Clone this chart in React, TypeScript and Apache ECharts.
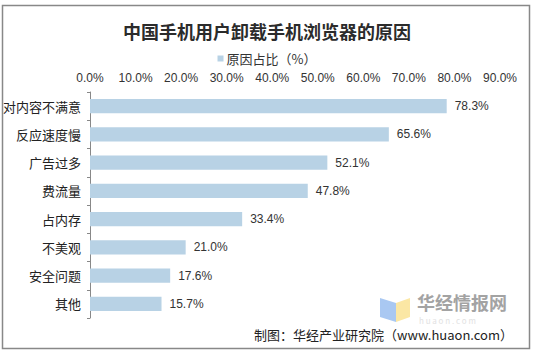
import React, { useEffect, useRef } from "react";
import * as echarts from "echarts";

const titleText = "中国手机用户卸载手机浏览器的原因";
const seriesName = "原因占比（%）";
const categories = ["对内容不满意", "反应速度慢", "广告过多", "费流量", "占内存", "不美观", "安全问题", "其他"];
const values = [78.3, 65.6, 52.1, 47.8, 33.4, 21.0, 17.6, 15.7];
const axisMin = 0;
const axisMax = 90;
const axisInterval = 10;
const sourceText = "制图：华经产业研究院（www.huaon.com）";
const watermarkText = "华经情报网";
const watermarkSub = "huaon.com";

export default function App() {
  const ref = useRef<HTMLDivElement>(null);
  useEffect(() => {
    document.body.style.margin = "0";
    const chart = echarts.init(ref.current!, null, { renderer: "svg" });
    const font = "'Noto Sans CJK SC', 'Noto Sans', sans-serif";
    chart.setOption({
      animation: false,
      backgroundColor: "#ffffff",
      textStyle: { fontFamily: font },
      title: {
        text: titleText,
        left: "center",
        top: 17,
        textStyle: { fontSize: 18, fontWeight: "bold", color: "#2b2b2b", fontFamily: font },
      },
      legend: {
        top: 47,
        left: "center",
        icon: "rect",
        itemWidth: 6,
        itemHeight: 6,
        itemGap: 4,
        textStyle: { fontSize: 13, color: "#333", fontFamily: font, padding: [0, 0, 0, -2] },
        data: [seriesName],
      },
      grid: { left: 89, right: 34, top: 92, bottom: 37, containLabel: false },
      xAxis: {
        type: "value",
        position: "top",
        min: axisMin,
        max: axisMax,
        interval: axisInterval,
        axisLine: { show: false },
        axisTick: { show: false },
        splitLine: { show: false },
        axisLabel: {
          margin: 8,
          fontSize: 12,
          color: "#333",
          fontFamily: "'Liberation Sans', Arial, sans-serif",
          formatter: (v: number) => v.toFixed(1) + "%",
        },
      },
      yAxis: {
        type: "category",
        inverse: true,
        data: categories,
        axisLine: { show: true, lineStyle: { color: "#888", width: 1 } },
        axisTick: { show: true, length: 3, lineStyle: { color: "#888" } },
        axisLabel: { margin: 9, fontSize: 13, color: "#222", fontFamily: font },
      },
      series: [
        {
          name: seriesName,
          type: "bar",
          data: values,
          barWidth: "50%",
          itemStyle: { color: "#b8d2e5" },
          label: {
            show: true,
            position: "right",
            distance: 8,
            fontSize: 12,
            color: "#333",
            fontFamily: "'Liberation Sans', Arial, sans-serif",
            formatter: (p: any) => Number(p.value).toFixed(1) + "%",
          },
        },
      ],
      graphic: [
        {
          type: "rect",
          shape: { x: 2.5, y: 5.5, width: 527, height: 343 },
          style: { fill: "none", stroke: "#888", lineWidth: 1.5 },
          z: 100,
        },
        {
          type: "polygon",
          shape: { points: [[380, 298], [396, 303], [396, 322], [380, 317]] },
          style: { fill: "#a9c8f2" },
          z: 1,
        },
        {
          type: "polygon",
          shape: { points: [[396, 303], [410, 298], [410, 317], [396, 322]] },
          style: { fill: "#fbe7a4" },
          z: 1,
        },
        {
          type: "text",
          x: 417,
          y: 293,
          style: { text: watermarkText, fontSize: 18, fontWeight: "bold", fill: "#a3a3a3", fontFamily: font },
          z: 1,
        },
        {
          type: "text",
          x: 419,
          y: 316,
          style: { text: watermarkSub.split("").join(" "), fontSize: 8, fill: "#e2e2e2", fontFamily: font },
          z: 1,
        },
        {
          type: "text",
          right: 21,
          y: 328,
          style: { text: sourceText, fontSize: 13, fill: "#222", fontFamily: font },
          z: 2,
        },
      ],
    });
    return () => chart.dispose();
  }, []);
  return <div ref={ref} style={{ width: 534, height: 355 }} />;
}
